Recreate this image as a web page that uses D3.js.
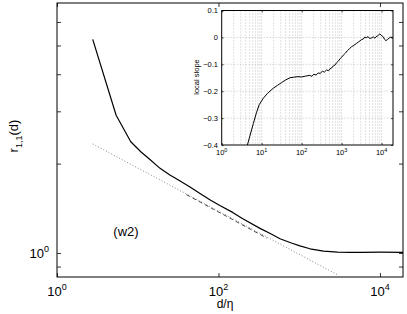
<!DOCTYPE html>
<html>
<head>
<meta charset="utf-8">
<script src="https://cdn.jsdelivr.net/npm/d3@7"></script>
<style>
body { margin: 0; background: #fff; }
text { font-family: "Liberation Sans", Arial, sans-serif; fill: #000; }
</style>
</head>
<body>
<svg></svg>
<script>
// main curve r_{1,1}(d)
const dist = [2.77, 5.4, 8.2, 11, 13.7, 18.9, 25, 31.6, 44.4, 59, 80, 104, 150, 200, 327, 450, 578, 800, 1020, 1360, 2000, 3000, 4250, 6000, 10000, 19300];
const corr = [5.24, 2.91, 2.37, 2.188, 2.08, 1.928, 1.832, 1.765, 1.667, 1.585, 1.505, 1.445, 1.37, 1.303, 1.21, 1.158, 1.117, 1.08, 1.057, 1.033, 1.014, 1.007, 1.005, 1.004, 1.006, 1.005];

// power law guide (dotted) and its fitted range (dashed)
const fitD = [2.77, 3020];
const fitR = [2.33, 0.843];
const dashD = [40, 400];
const dashR = [1.573, 1.121];

// inset: local slope
const slopeD = [4.4, 5.0, 6.2, 7.4, 8.7, 11, 14, 19.5, 25, 31.6, 40, 51, 63, 80, 100, 125, 160, 180, 200, 230, 260, 290, 330, 370, 420, 470, 510, 560, 620, 680, 750, 830, 920, 1000, 1100, 1250, 1400, 1600, 1800, 2000, 2370, 2700, 3160, 3500, 3800, 4200, 4600, 5000, 5600, 6200, 6800, 7200, 8000, 9000, 9800, 11000, 12000, 12800, 14000, 15500, 17000, 19300];
const slopeV = [-0.40, -0.37, -0.32, -0.28, -0.25, -0.226, -0.208, -0.189, -0.178, -0.168, -0.158, -0.150, -0.148, -0.146, -0.147, -0.144, -0.141, -0.145, -0.137, -0.140, -0.132, -0.134, -0.126, -0.129, -0.121, -0.124, -0.117, -0.114, -0.106, -0.103, -0.094, -0.088, -0.079, -0.074, -0.066, -0.058, -0.049, -0.041, -0.034, -0.030, -0.022, -0.016, -0.008, -0.006, 0.001, -0.001, 0.003, -0.004, -0.002, 0.002, -0.003, 0.002, 0.006, 0.013, 0.008, 0.002, -0.008, -0.012, -0.008, -0.002, 0.001, -0.002];

const mainXTicks = [1, 100, 10000];
const mainYTicks = [0.9, 1, 2, 3, 4, 5, 6];
const mainYLabels = [1];
const insetXTicks = [1, 10, 100, 1000, 10000];
const insetYTicks = [0.1, 0, -0.1, -0.2, -0.3, -0.4];
const insetYLabels = ['0.1', '0', '\u22120.1', '\u22120.2', '\u22120.3', '\u22120.4'];

const W = 407, H = 314;
const svg = d3.select('svg').attr('width', W).attr('height', H);

const x = d3.scaleLog().domain([1, 19300]).range([57, 403]);
const y = d3.scaleLog().domain([0.83, 6.95]).range([277, 3]);

const xi = d3.scaleLog().domain([1, 19300]).range([221.7, 393]);
const yi = d3.scaleLinear().domain([-0.4, 0.1]).range([145, 10.5]);

const defs = svg.append('defs');
defs.append('clipPath').attr('id', 'mainClip').append('rect')
    .attr('x', 57).attr('y', 3).attr('width', 346).attr('height', 274);
defs.append('clipPath').attr('id', 'insetClip').append('rect')
    .attr('x', 221.7).attr('y', 10.5).attr('width', 171.3).attr('height', 134.5);

// ---- main axes ----
const main = svg.append('g');

const line = d3.line().x(d => x(d[0])).y(d => y(d[1]));

main.append('path')
    .attr('clip-path', 'url(#mainClip)')
    .attr('d', line(fitD.map((d, i) => [d, fitR[i]])))
    .attr('fill', 'none').attr('stroke', '#888').attr('stroke-width', 1)
    .attr('stroke-dasharray', '1,2');

main.append('path')
    .attr('clip-path', 'url(#mainClip)')
    .attr('d', line(dashD.map((d, i) => [d, dashR[i]])))
    .attr('fill', 'none').attr('stroke', '#333').attr('stroke-width', 0.9)
    .attr('stroke-dasharray', '4,3');

main.append('path')
    .attr('clip-path', 'url(#mainClip)')
    .attr('d', line(dist.map((d, i) => [d, corr[i]])))
    .attr('fill', 'none').attr('stroke', '#000').attr('stroke-width', 1.2)
    .attr('stroke-linejoin', 'round');

// ticks (inward, on all four sides)
const noFmt = () => '';
main.append('g').attr('transform', 'translate(0,277)')
    .call(d3.axisBottom(x).tickValues(mainXTicks).tickSizeInner(-4).tickSizeOuter(0).tickFormat(noFmt));
main.append('g').attr('transform', 'translate(0,3)')
    .call(d3.axisTop(x).tickValues(mainXTicks).tickSizeInner(-4).tickSizeOuter(0).tickFormat(noFmt));
main.append('g').attr('transform', 'translate(57,0)')
    .call(d3.axisLeft(y).tickValues(mainYTicks).tickSizeInner(-4).tickSizeOuter(0).tickFormat(noFmt));
main.append('g').attr('transform', 'translate(403,0)')
    .call(d3.axisRight(y).tickValues(mainYTicks).tickSizeInner(-4).tickSizeOuter(0).tickFormat(noFmt));
main.selectAll('.domain').remove();
main.selectAll('.tick line').attr('stroke', '#000').attr('stroke-width', 0.8);

main.append('rect').attr('x', 57).attr('y', 3).attr('width', 346).attr('height', 274)
    .attr('fill', 'none').attr('stroke', '#000').attr('stroke-width', 1);

// x tick labels 10^n
const xl = main.selectAll('.xlab').data(mainXTicks).enter().append('text')
    .attr('class', 'xlab')
    .attr('x', d => x(d)).attr('y', 296)
    .attr('text-anchor', 'middle').style('font-size', '13px');
xl.append('tspan').text('10');
xl.append('tspan').attr('dy', -6).style('font-size', '9px').text(d => Math.round(Math.log10(d)));

const yl = main.selectAll('.ylab').data(mainYLabels).enter().append('text')
    .attr('class', 'ylab')
    .attr('x', 49).attr('y', d => y(d) + 5)
    .attr('text-anchor', 'end').style('font-size', '13px');
yl.append('tspan').text('10');
yl.append('tspan').attr('dy', -6).style('font-size', '9px').text(d => Math.round(Math.log10(d)));

main.append('text').attr('x', 225).attr('y', 308)
    .attr('text-anchor', 'middle').style('font-size', '12px').text('d/\u03b7');

const ylab = main.append('text').attr('transform', 'translate(18,136) rotate(-90)')
    .attr('text-anchor', 'middle').style('font-size', '13px');
ylab.append('tspan').text('r');
ylab.append('tspan').attr('dy', 4).style('font-size', '9px').text('1,1');
ylab.append('tspan').attr('dy', -4).text('(d)');

main.append('text').attr('x', 126).attr('y', 236)
    .attr('text-anchor', 'middle').style('font-size', '13px').text('(w2)');

// ---- inset axes ----
const inset = svg.append('g');
inset.append('rect').attr('x', 221.7).attr('y', 10.5).attr('width', 171.3).attr('height', 134.5)
    .attr('fill', '#fff');

// grid: every minor decade line, and major y values
const gridX = [];
for (let p = 0; p <= 4; p++) for (let k = 1; k <= 9; k++) {
  const v = k * Math.pow(10, p);
  if (v > 1 && v < 19300) gridX.push(v);
}
inset.selectAll('.gx').data(gridX).enter().append('line')
    .attr('x1', d => xi(d)).attr('x2', d => xi(d)).attr('y1', 10.5).attr('y2', 145)
    .attr('stroke', '#aaa').attr('stroke-width', 0.7).attr('stroke-dasharray', '1,2');
inset.selectAll('.gy').data(insetYTicks.slice(1, -1)).enter().append('line')
    .attr('x1', 221.7).attr('x2', 393).attr('y1', d => yi(d)).attr('y2', d => yi(d))
    .attr('stroke', '#aaa').attr('stroke-width', 0.7).attr('stroke-dasharray', '1,2');

inset.append('path')
    .attr('clip-path', 'url(#insetClip)')
    .attr('d', d3.line().x(d => xi(d[0])).y(d => yi(d[1]))(slopeD.map((d, i) => [d, slopeV[i]])))
    .attr('fill', 'none').attr('stroke', '#000').attr('stroke-width', 1);

inset.append('g').attr('transform', 'translate(0,145)')
    .call(d3.axisBottom(xi).tickValues(insetXTicks).tickSizeInner(-2).tickSizeOuter(0).tickFormat(noFmt));
inset.append('g').attr('transform', 'translate(0,10.5)')
    .call(d3.axisTop(xi).tickValues(insetXTicks).tickSizeInner(-2).tickSizeOuter(0).tickFormat(noFmt));
inset.append('g').attr('transform', 'translate(221.7,0)')
    .call(d3.axisLeft(yi).tickValues(insetYTicks).tickSizeInner(-2).tickSizeOuter(0).tickFormat(noFmt));
inset.append('g').attr('transform', 'translate(393,0)')
    .call(d3.axisRight(yi).tickValues(insetYTicks).tickSizeInner(-2).tickSizeOuter(0).tickFormat(noFmt));
inset.selectAll('.domain').remove();
inset.selectAll('.tick line').attr('stroke', '#000').attr('stroke-width', 0.7);

inset.append('rect').attr('x', 221.7).attr('y', 10.5).attr('width', 171.3).attr('height', 134.5)
    .attr('fill', 'none').attr('stroke', '#000').attr('stroke-width', 1);

const ixl = inset.selectAll('.ixlab').data(insetXTicks).enter().append('text')
    .attr('x', d => xi(d)).attr('y', 155)
    .attr('text-anchor', 'middle').style('font-size', '7.5px');
ixl.append('tspan').text('10');
ixl.append('tspan').attr('dy', -3.5).style('font-size', '5.5px').text(d => Math.round(Math.log10(d)));

inset.selectAll('.iylab').data(insetYTicks).enter().append('text')
    .attr('x', 218).attr('y', d => yi(d) + 2.7)
    .attr('text-anchor', 'end').style('font-size', '7.5px')
    .text((d, i) => insetYLabels[i]);

inset.append('text').attr('transform', 'translate(199,77) rotate(-90)')
    .attr('text-anchor', 'middle').style('font-size', '7.5px').text('local slope');
</script>
</body>
</html>
